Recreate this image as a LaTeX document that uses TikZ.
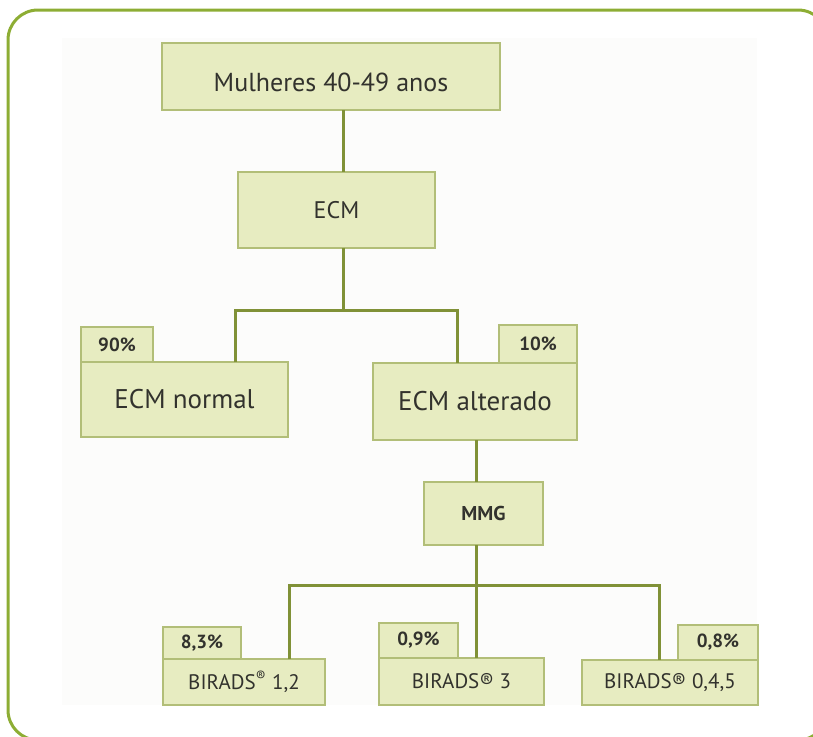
\documentclass[tikz,border=0pt]{standalone}
\usepackage{fontspec}
\setmainfont{PT Sans}
\definecolor{framegreen}{RGB}{141,173,52}
\definecolor{lineolive}{RGB}{128,145,55}
\definecolor{boxfill}{RGB}{231,236,193}
\definecolor{boxborder}{RGB}{178,190,120}
\definecolor{textgray}{RGB}{50,50,45}
\definecolor{bgshade}{RGB}{252,252,251}
\tikzset{
  box/.style={draw=boxborder, line width=1.5pt, fill=boxfill, inner sep=0pt, outer sep=0pt, text=textgray, align=center},
  bigtxt/.style={font=\fontsize{27}{30}\selectfont},
  midtxt/.style={font=\fontsize{21}{24}\selectfont},
  pct/.style={box, font=\bfseries\fontsize{19}{22}\selectfont},
  conn/.style={draw=lineolive, line width=3pt, line join=miter},
  frame/.style={draw=framegreen, line width=3pt, rounded corners=30pt}
}
\begin{document}
\begin{tikzpicture}[x=1pt,y=-1pt]
\useasboundingbox (0,0) rectangle (813,736);
\fill[bgshade] (62,38) rectangle (757,705);
\draw[frame] (8,10) rectangle (828,740);

% coordinates for connector joints
\coordinate (j1) at (343,310);
\coordinate (barL) at (235,310);
\coordinate (barR) at (457,310);
\coordinate (j2) at (476,585);
\coordinate (bL) at (289,585);
\coordinate (bR) at (659,585);

\node[box, minimum width=338pt, minimum height=67pt, text height=30pt, text depth=0pt, font=\fontsize{26}{30}\selectfont] (top) at (331,76.5) {Mulheres 40-49 anos};
\node[box, minimum width=197pt, minimum height=76pt, font=\fontsize{24}{28}\selectfont] (ecm) at (336.5,210) {ECM};
\node[pct, minimum width=72pt, minimum height=35pt] (p90) at (117,344.5) {90\%};
\node[box, bigtxt, minimum width=207pt, minimum height=75pt] (normal) at (184.5,399.5) {ECM normal};
\node[pct, minimum width=78pt, minimum height=38pt] (p10) at (538,344) {10\%};
\node[box, bigtxt, minimum width=204pt, minimum height=77pt] (alt) at (475,401.5) {ECM alterado};
\node[box, minimum width=119pt, minimum height=63pt, font=\bfseries\fontsize{20}{24}\selectfont] (mmg) at (483.5,513.5) {MMG};
\node[pct, minimum width=78pt, minimum height=32pt] (p83) at (202,643) {8,3\%};
\node[box, midtxt, minimum width=162pt, minimum height=46pt] (b12) at (244,682) {BIRADS\textsuperscript{®} 1,2};
\node[pct, minimum width=79pt, minimum height=35pt] (p09) at (418.5,640.5) {0,9\%};
\node[box, midtxt, minimum width=165pt, minimum height=47pt] (b3) at (461.5,681.5) {BIRADS® 3};
\node[pct, minimum width=80pt, minimum height=35pt] (p08) at (718,642.5) {0,8\%};
\node[box, midtxt, minimum width=176pt, minimum height=45pt] (b045) at (670,682.5) {BIRADS® 0,4,5};

\draw[conn] (top.south -| j1) -- (ecm.north -| j1);
\draw[conn] (ecm.south -| j1) -- (j1);
\draw[conn] (normal.north -| barL) -- (barL) -- (barR) -- (alt.north -| barR);
\draw[conn] (alt.south -| j2) -- (mmg.north -| j2);
\draw[conn] (mmg.south -| j2) -- (j2) -- (b3.north -| j2);
\draw[conn] (b12.north -| bL) -- (bL) -- (bR) -- (b045.north -| bR);
\end{tikzpicture}
\end{document}
